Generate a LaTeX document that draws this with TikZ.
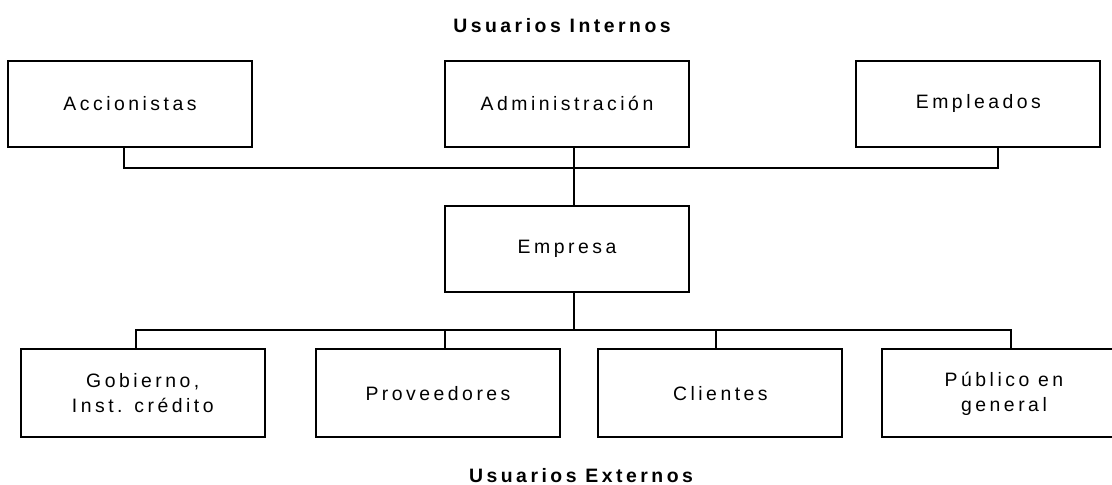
\documentclass[tikz,border=0pt]{standalone}
\usepackage{fontspec}
\setmainfont{Liberation Sans}[LetterSpace=18]
\usepackage{tikz}

\tikzset{
  caja/.style={draw, line width=1.4pt, minimum width=6.1cm, minimum height=2.15cm, align=center, inner sep=0pt},
  titulo/.style={font=\fontsize{13.8}{17.8}\selectfont\bfseries},
  linea/.style={line width=1.4pt},
}

\begin{document}
\begin{tikzpicture}[font=\fontsize{13.8}{17.8}\selectfont]

\useasboundingbox (0,0) rectangle (27.8,12.125);
\clip (0,0) rectangle (27.8,12.125);

% Usuarios internos
\node[titulo] (tInt) at (14.05,11.475) {Usuarios Internos};
\node[caja] (acc) at (3.25,9.53) {Accionistas};
\node[caja] (adm) at (14.175,9.53) {Administración};
\node[caja] (emp) at (24.46,9.53) {Empleados};

% Empresa
\node[caja] (empr) at (14.175,5.90) {Empresa};

% Usuarios externos
\node[caja, minimum height=2.2cm] (gob) at (3.57,2.29) {Gobierno,\\Inst. crédito};
\node[caja, minimum height=2.2cm] (prov) at (10.95,2.29) {Proveedores};
\node[caja, minimum height=2.2cm] (cli) at (18.01,2.29) {Clientes};
\node[caja, minimum height=2.2cm] (pub) at (25.1,2.29) {Público en\\general};
\node[titulo] (tExt) at (14.525,0.225) {Usuarios Externos};

% Lineas de arriba
\draw[linea] ([xshift=-1.5mm]acc.south) -- ++(0,-0.495) coordinate (busI) -| ([xshift=4.9mm]emp.south);
\draw[linea] ([xshift=1.75mm]adm.south) -- ([xshift=1.75mm]empr.north);

% Lineas de abajo
\draw[linea] ([xshift=-1.7mm]gob.north) -- ++(0,0.46) coordinate (busE) -| ([xshift=1.7mm]pub.north);
\draw[linea] ([xshift=1.75mm]empr.south) -- ([xshift=1.75mm]empr.south |- busE);
\draw[linea] ([xshift=1.75mm]prov.north) -- ([xshift=1.75mm]prov.north |- busE);
\draw[linea] ([xshift=-1.2mm]cli.north) -- ([xshift=-1.2mm]cli.north |- busE);

\end{tikzpicture}
\end{document}
